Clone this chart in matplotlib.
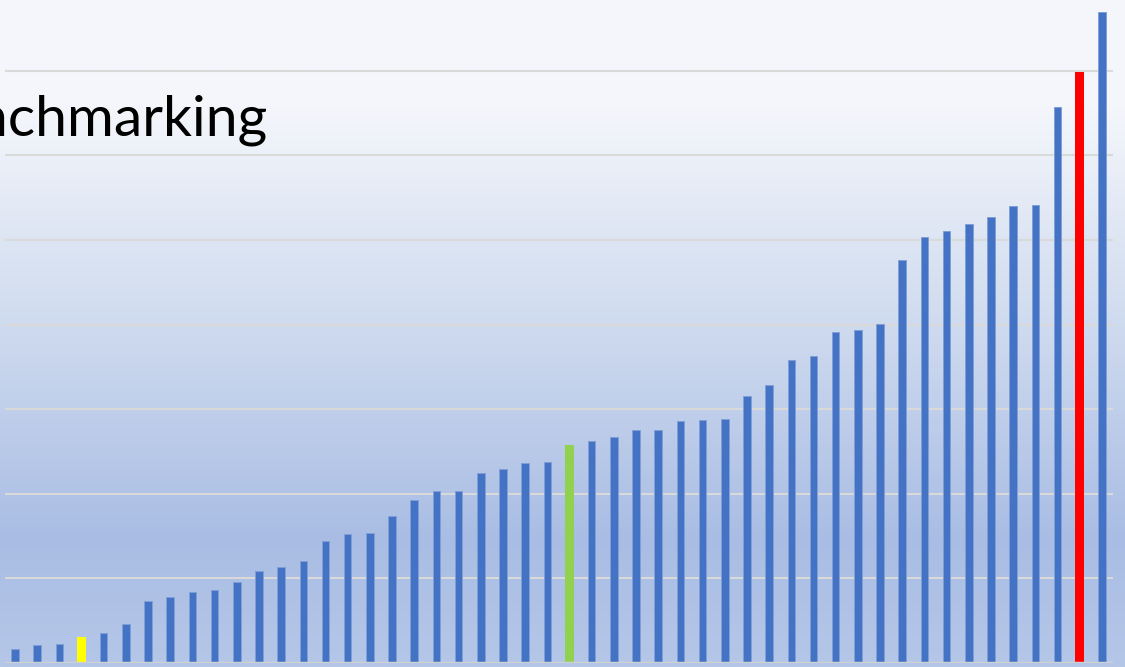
import matplotlib
matplotlib.use("Agg")
import matplotlib.pyplot as plt
import numpy as np
from matplotlib.colors import LinearSegmentedColormap

# bar values, in gridline units, sorted ascending
values = [0.165, 0.21, 0.225, 0.31, 0.35, 0.46, 0.73, 0.78, 0.84, 0.86,
          0.96, 1.09, 1.13, 1.21, 1.44, 1.52, 1.54, 1.74, 1.93, 2.03,
          2.03, 2.24, 2.29, 2.36, 2.38, 2.58, 2.63, 2.67, 2.75, 2.75,
          2.86, 2.87, 2.88, 3.16, 3.29, 3.58, 3.63, 3.91, 3.94, 4.01,
          4.76, 5.04, 5.11, 5.19, 5.27, 5.40, 5.41, 6.57, 6.98, 7.70]
highlight = {3: "#ffff00", 25: "#92d050", 48: "#ff0000"}
gridlines = [1, 2, 3, 4, 5, 6, 7]
title = "Benchmarking"

fig = plt.figure(figsize=(11.25, 6.67), dpi=100)

# gradient background
bg = fig.add_axes([0, 0, 1, 1], zorder=0)
cmap = LinearSegmentedColormap.from_list("bg", [
    (0.0, "#f5f7fb"), (0.16, "#f4f6fb"), (0.45, "#d3def0"),
    (0.81, "#a9bde4"), (1.0, "#b5c7e8")])
grad = np.linspace(0, 1, 256).reshape(-1, 1)
bg.imshow(grad, aspect="auto", cmap=cmap, extent=[0, 1, 0, 1], origin="upper")
bg.set_axis_off()

ax = fig.add_axes([5 / 1125, 4 / 667, 1108 / 1125, 663 / 667], zorder=1)
ax.patch.set_alpha(0)
x = np.arange(len(values))
ax.set_xlim(-0.45, len(values) - 0.5)
ax.set_ylim(0, 663 / 84.6)

for g in gridlines:
    ax.axhline(g, color="#d9d9d9", linewidth=1.5, zorder=1)
ax.axhline(0, color="#d0d0d0", linewidth=2.5, zorder=3)

for i, v in enumerate(values):
    if i in highlight:
        ax.bar(x[i], v, width=0.41, color=highlight[i], linewidth=0, zorder=2)
    else:
        ax.bar(x[i], v, width=0.34, color="#4472c4",
               edgecolor="#7f9fd6", linewidth=0.7, zorder=2)

for s in ax.spines.values():
    s.set_visible(False)
ax.set_xticks([])
ax.set_yticks([])

fig.text(268 / 1125, 1 - 135 / 667, title, ha="right", va="baseline",
         fontsize=41, family=["Lato", "DejaVu Sans"], color="black", zorder=5)

fig.savefig("out.png", dpi=100)
